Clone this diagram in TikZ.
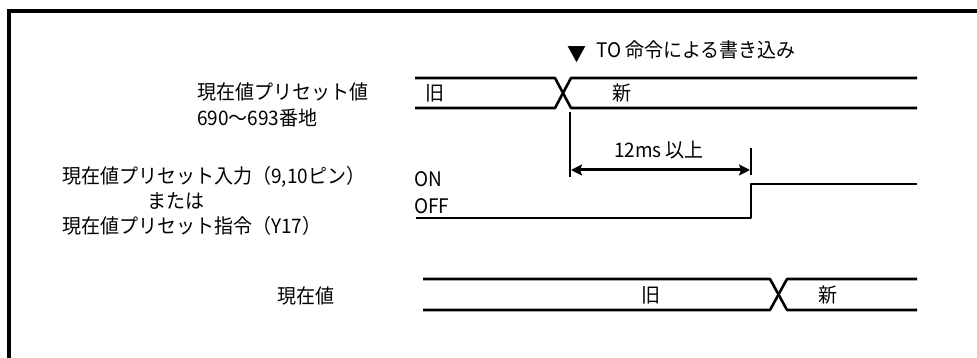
\documentclass[tikz,border=0pt]{standalone}
\usepackage{fontspec}
\setmainfont{Noto Sans CJK JP}[FakeStretch=0.95]
\usetikzlibrary{arrows.meta}
\begin{document}
\begin{tikzpicture}[x=1pt,y=-1pt,
  sig/.style={line width=2.6pt, line join=round},
  thinmark/.style={line width=1.3pt},
  lbl/.style={inner sep=0pt, font=\fontsize{20}{24}\selectfont},
  dimarrow/.style={line width=3pt, {Stealth[length=11pt,width=11pt,inset=2pt]}-{Stealth[length=11pt,width=11pt,inset=2pt]}}]
\useasboundingbox (0,0) rectangle (977,358);
\fill[white] (0,0) rectangle (977,358);
% frame
\draw[line width=4pt] (9,360) -- (9,11) -- (980,11);
% bus 1: preset value
\draw[sig] (415,78) -- (555,78) -- (571,108) -- (917,108);
\draw[sig] (415,108) -- (555,108) -- (571,78) -- (917,78);
\node[lbl] (old1) at (435,93) {旧};
\node[lbl] (new1) at (622,93) {新};
% trigger text
\node[lbl] (tri) at (577,55) {▼};
\node[lbl, anchor=west] (trig) at (596,50) {TO 命令による書き込み};
% marker lines and arrow
\coordinate (mA) at (570,112);
\coordinate (mAb) at (570,177);
\coordinate (mB) at (751,148);
\coordinate (mBb) at (751,175);
\draw[thinmark] (mA) -- (mAb);
\draw[thinmark] (mB) -- (mBb);
\coordinate (arL) at (571,170);
\coordinate (arR) at (750,170);
\draw[dimarrow] (arL) -- (arR);
\node[lbl] (dur) at (659,150) {12ms 以上};
% preset input signal
\draw[sig] (416,218) -- (751,218) -- (751,184) -- (917,184);
\node[lbl, anchor=west] (on) at (414,179) {ON};
\node[lbl, anchor=west] (off) at (414,206) {OFF};
% bus 2: current value
\draw[sig] (423,279) -- (770,279) -- (787,310) -- (917,310);
\draw[sig] (423,310) -- (770,310) -- (787,279) -- (917,279);
\node[lbl] (old2) at (651,295) {旧};
\node[lbl] (new2) at (828,295) {新};
% left labels
\node[lbl, anchor=west] (l1a) at (197,92) {現在値プリセット値};
\node[lbl, anchor=west] (l1b) at (197,118) {690～693番地};
\node[lbl, anchor=west] (l2a) at (62,177) {現在値プリセット入力（9,10ピン）};
\node[lbl, anchor=west] (l2b) at (147,201) {または};
\node[lbl, anchor=west] (l2c) at (62,226) {現在値プリセット指令（Y17）};
\node[lbl] (l3) at (306,296) {現在値};
\end{tikzpicture}
\end{document}
